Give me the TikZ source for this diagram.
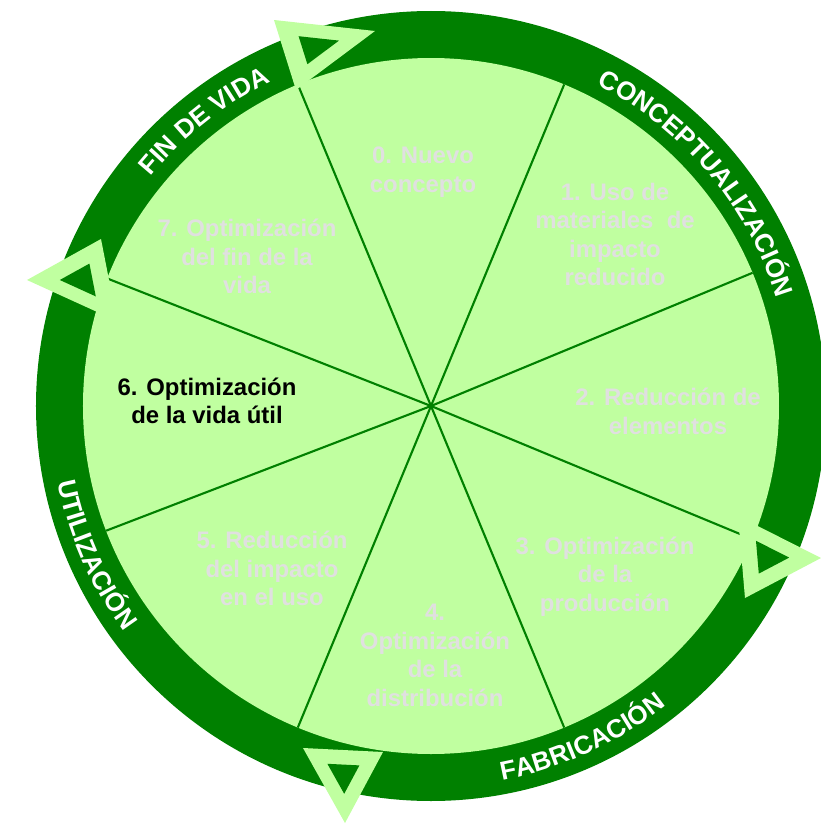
\documentclass[tikz,border=0pt]{standalone}
\usepackage{fontspec}
\setmainfont{Liberation Sans}
\usetikzlibrary{calc,decorations.text}
\definecolor{ringgreen}{RGB}{0,128,0}
\definecolor{leafgreen}{RGB}{192,255,160}
\definecolor{labelgray}{RGB}{224,224,224}
\newcommand{\labelfont}{\fontsize{17}{20.3}\selectfont\bfseries}
\newcommand{\ringfont}{\fontsize{18.5}{20}\selectfont\bfseries}
% outlined triangle on the ring
\newcommand{\arrowtri}[3]{%
  \fill[leafgreen] (#1) -- (#2) -- (#3) -- cycle;
  \coordinate (m) at ($1/3*(#1)+1/3*(#2)+1/3*(#3)$);
  \fill[ringgreen] ($(m)!.4!(#1)$) -- ($(m)!.4!(#2)$) -- ($(m)!.4!(#3)$) -- cycle;}

\begin{document}
\begin{tikzpicture}[
  stage/.style={align=center, font=\labelfont, text=labelgray, inner sep=0pt},
  spoke/.style={ringgreen, line width=1.5pt},
  ringtext/.style={decorate, decoration={text along path, text={|\ringfont|#1},
    text align=center, text color=white}}]
\useasboundingbox (-10.775,-10.45) rectangle (9.75,10.15);
\fill[ringgreen] (0,0) circle (9.875);
\fill[leafgreen] (0,0) circle (8.7);
\foreach \a in {22.5,67.5,112.5,158.5,201,247.5,292.5,337.5}
  \draw[spoke] (0,0) -- (\a:8.7);
\arrowtri{-3.925,9.65}{-1.4,9.375}{-3.375,7.9}
\arrowtri{-10.1,3.15}{-8.25,4.175}{-7.85,2.125}
\arrowtri{7.675,-2.75}{9.75,-3.8}{7.85,-4.8}
\arrowtri{-3.2,-8.55}{-2.15,-10.425}{-1.2,-8.65}
%\draw (0,0) circle (9.3);
\node[stage] (s0) at (-0.2,5.84) {0. Nuevo\\concepto};
\node[stage] (s1) at (4.6,4.29) {1. Uso de\\materiales\ \ de\\impacto\\reducido};
\node[stage] (s2) at (5.925,-0.14) {2. Reducción de\\elementos};
\node[stage] (s3) at (4.35,-4.26) {3. Optimización\\de la\\producción};
\node[stage] (s4) at (0.1,-6.24) {4.\\Optimización\\de la\\distribución};
\node[stage] (s5) at (-3.975,-4.06) {5. Reducción\\del impacto\\en el uso};
\node[stage, text=black] (s6) at (-5.6,0.125) {6. Optimización\\de la vida útil};
\node[stage] (s7) at (-4.6,3.74) {7. Optimización\\del fin de la\\vida};
\path[ringtext={FIN DE VIDA}] (148.5:9.05) arc[start angle=148.5, end angle=108.5, radius=9.05];
\path[ringtext={CONCEPTUALIZACIÓN}] (70:9.05) arc[start angle=70, end angle=10, radius=9.05];
\path[ringtext={UTILIZACIÓN}] (183.9:9.525) arc[start angle=183.9, end angle=223.9, radius=9.525];
\path[ringtext={FABRICACIÓN}] (-85.55:9.525) arc[start angle=-85.55, end angle=-45.55, radius=9.525];
\end{tikzpicture}
\end{document}
